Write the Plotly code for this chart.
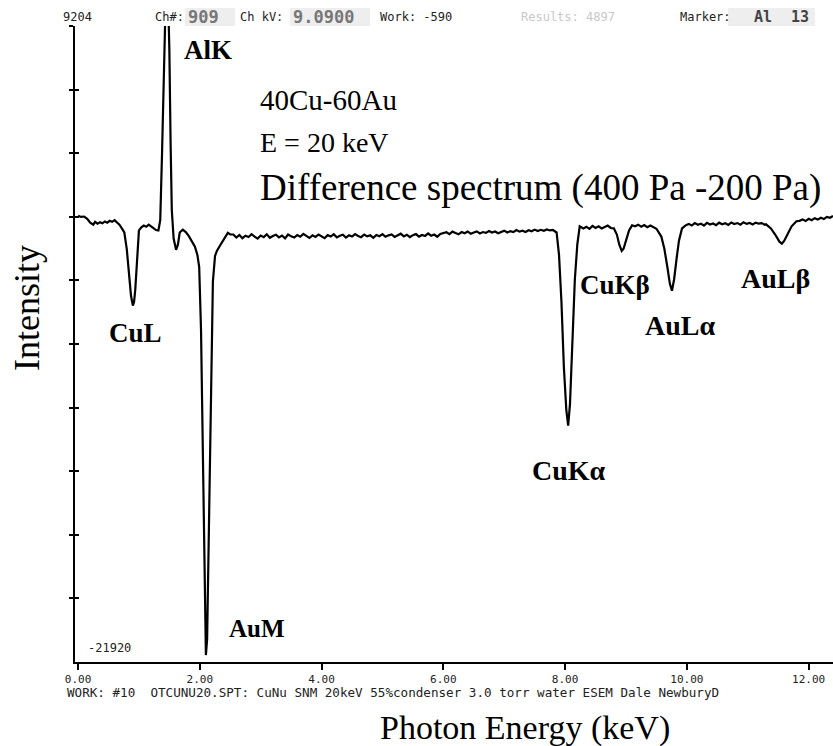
import plotly.graph_objects as go

# ---------------- data ----------------
energy_kev = [
    0.00, 0.05, 0.10, 0.15, 0.20, 0.25, 0.28, 0.32, 0.36, 0.40, 0.44, 0.48, 0.52, 0.56, 0.60, 0.64, 0.68,
    0.72, 0.76, 0.80, 0.84, 0.87, 0.90, 0.92, 0.94, 0.96, 0.98, 1.00, 1.04, 1.08, 1.12, 1.16, 1.20, 1.24,
    1.28, 1.32, 1.35, 1.38, 1.41, 1.44, 1.48, 1.50, 1.52, 1.54, 1.57, 1.61, 1.64, 1.67, 1.72, 1.77, 1.82,
    1.87, 1.92, 1.96, 1.99, 2.02, 2.045, 2.07, 2.085, 2.10, 2.12, 2.14, 2.165, 2.19, 2.215, 2.25, 2.28,
    2.33, 2.40, 2.46, 2.50,
    2.55, 2.60, 2.65, 2.70, 2.75, 2.80, 2.85, 2.90, 2.95, 3.00, 3.05, 3.10, 3.15, 3.20, 3.25, 3.30, 3.35,
    3.40, 3.45, 3.50, 3.55, 3.60, 3.65, 3.70, 3.75, 3.80, 3.85, 3.90, 3.95, 4.00, 4.05, 4.10, 4.15, 4.20,
    4.25, 4.30, 4.35, 4.40, 4.45, 4.50, 4.55, 4.60, 4.65, 4.70, 4.75, 4.80, 4.85, 4.90, 4.95, 5.00, 5.05,
    5.10, 5.15, 5.20, 5.25, 5.30, 5.35, 5.40, 5.45, 5.50, 5.55, 5.60, 5.65, 5.70, 5.75, 5.80, 5.85, 5.90,
    5.95, 6.00, 6.05, 6.10, 6.15, 6.20, 6.25, 6.30, 6.35, 6.40, 6.45, 6.50, 6.55, 6.60, 6.65, 6.70, 6.75,
    6.80, 6.85, 6.90, 6.95, 7.00, 7.05, 7.10, 7.15, 7.20, 7.25, 7.30, 7.35, 7.40, 7.45, 7.50, 7.55, 7.60,
    7.65, 7.70, 7.75,
    7.80, 7.86, 7.90, 7.94, 7.98, 8.02, 8.05, 8.08, 8.12, 8.16, 8.20, 8.24, 8.30, 8.35, 8.40, 8.45, 8.50,
    8.55, 8.60, 8.65, 8.70, 8.75, 8.80, 8.85, 8.89, 8.93, 8.96, 9.00, 9.05, 9.10, 9.15, 9.20, 9.25, 9.30,
    9.35, 9.40, 9.45, 9.50, 9.58, 9.63, 9.68, 9.72, 9.755, 9.79, 9.83, 9.87, 9.92, 9.98,
    10.03, 10.08, 10.13, 10.18, 10.23, 10.28, 10.33, 10.38, 10.43, 10.48, 10.53, 10.58, 10.63, 10.68,
    10.73, 10.78, 10.83, 10.88, 10.93, 10.98, 11.03, 11.08, 11.13, 11.18, 11.23, 11.28, 11.30, 11.38,
    11.45, 11.52, 11.56, 11.60, 11.66, 11.72, 11.80, 11.85, 11.90, 11.95, 12.00, 12.05, 12.10, 12.15,
    12.20, 12.25, 12.30, 12.35, 12.40,
]
intensity = [
    -80, -140, -120, -230, -420, -520, -380, -470, -400, -450, -360, -420, -330, -380, -300, -420, -520,
    -700, -900, -1700, -3000, -4000, -4480, -4300, -3700, -2600, -1300, -800, -650, -560, -620, -520, -600, -680,
    -780, -800, -300, 3000, 7500, 10600, 10600, 8000, 3500, 200, -1200, -1750, -1500, -900, -760, -880, -1080,
    -1350, -1600, -2000, -2600, -5700, -10100, -15000, -18900, -21580, -20800, -16900, -11600, -6700, -3300, -2050, -1800,
    -1550, -1200, -920, -1000,
    -1000, -1150, -1020, -1180, -1060, -1120, -980, -1100, -1200, -1050, -1130, -990, -1160, -1070, -1010, -1140, -1050,
    -1190, -1000, -1090, -1150, -1030, -1110, -970, -1080, -1170, -1040, -1120, -1000, -1090, -1180, -1030, -1100, -990,
    -1140, -1060, -1010, -1150, -1040, -1100, -980, -1070, -1130, -1000, -1090, -1040, -1160, -1020, -1080, -980, -1110,
    -1040, -1000, -1120, -1050, -960, -1090, -1010, -1130, -1030, -980, -1100, -1020, -1070, -950, -1060, -1000, -1110,
    -970, -940, -890, -980, -860, -930, -990, -880, -940, -850, -960, -900, -850, -950, -880, -920, -830,
    -900, -850, -940, -870, -810, -900, -840, -880, -780, -860, -810, -880, -790, -840, -760, -830, -770,
    -820, -750, -800,
    -780, -900, -2000, -4300, -7500, -9600, -10350, -9300, -6000, -3200, -1500, -600, -700, -620, -720, -580, -680,
    -600, -700, -640, -560, -680, -700, -1000, -1500, -1800, -1700, -1300, -800, -550, -600, -520, -620, -540,
    -640, -560, -650, -720, -1100, -1700, -2600, -3400, -3750, -3200, -2200, -1300, -700, -550,
    -480, -560, -440, -520, -470, -560, -430, -510, -460, -540, -420, -500, -450, -530,
    -410, -490, -440, -520, -400, -480, -430, -510, -420, -470, -440, -520, -500, -700,
    -1000, -1350, -1450, -1300, -950, -600, -350, -330, -260, -340, -230, -300, -200, -270,
    -180, -240, -140, -180, -90,
]

x_tick_values = [0, 2, 4, 6, 8, 10, 12]
x_tick_labels = ["0.00", "2.00", "4.00", "6.00", "8.00", "10.00", "12.00"]
y_top_label = 9204
y_bottom_label = -21920
y_divisions = 10

peak_labels = ["AlK", "CuL", "AuM", "CuKα", "CuKβ", "AuLα", "AuLβ"]
peak_label_x = [2.135, 0.936, 2.94, 8.065, 8.82, 9.889, 11.449]
peak_label_y = [8030, -5821, -20258, -12525, -3471, -5429, -3129]
peak_label_size = [27, 27, 25, 28, 27, 28, 28]

info_lines = ["40Cu-60Au", "E = 20 keV", "Difference spectrum (400 Pa -200 Pa)"]
info_sizes = [29, 28, 37]
info_y = [5600, 3500, 1300]

# ---------------- figure ----------------
step = (y_top_label - y_bottom_label) / y_divisions
y_ticks = [y_top_label - k * step for k in range(0, y_divisions)]

fig = go.Figure()
fig.add_trace(go.Scatter(x=energy_kev, y=intensity, mode="lines",
                         line=dict(color="black", width=2.2), showlegend=False,
                         hoverinfo="skip"))
fig.add_trace(go.Scatter(x=[None], y=[None], yaxis="y2", showlegend=False))

fig.update_layout(
    width=833, height=746,
    margin=dict(l=75, r=0, t=26, b=84),
    paper_bgcolor="white", plot_bgcolor="white",
    xaxis=dict(range=[-0.05, 12.40], showgrid=False, zeroline=False,
               showline=True, linecolor="black", linewidth=2,
               ticks="outside", ticklen=6, tickwidth=2, tickcolor="black",
               tickvals=x_tick_values, ticktext=x_tick_labels,
               tickfont=dict(family="DejaVu Sans Mono", size=11, color="#222")),
    yaxis=dict(range=[y_bottom_label, y_top_label], showgrid=False, zeroline=False,
               showline=True, linecolor="black", linewidth=2,
               ticks="outside", ticklen=4, tickwidth=2, tickcolor="black",
               tickvals=y_ticks, showticklabels=False),
    yaxis2=dict(range=[y_bottom_label, y_top_label], overlaying="y", side="left",
                showgrid=False, zeroline=False, showline=False,
                ticks="inside", ticklen=4, tickwidth=2, tickcolor="black",
                tickvals=y_ticks, showticklabels=False),
)

serif = "Liberation Serif"
for t, x, y, s in zip(peak_labels, peak_label_x, peak_label_y, peak_label_size):
    fig.add_annotation(x=x, y=y, xref="x", yref="y", text=f"<b>{t}</b>", showarrow=False,
                       font=dict(family=serif, size=s, color="black"),
                       xanchor="center", yanchor="middle")

for t, s, y in zip(info_lines, info_sizes, info_y):
    fig.add_annotation(x=2.95, y=y, xref="x", yref="y", text=t, showarrow=False,
                       font=dict(family=serif, size=s, color="black"),
                       xanchor="left", yanchor="middle")


def px_x(p):
    return (p - 75) / 758


def px_y(p):
    return (662 - p) / 636


# axis titles
fig.add_annotation(x=px_x(525), y=px_y(728), xref="paper", yref="paper", text="Photon Energy (keV)",
                   showarrow=False, font=dict(family=serif, size=34, color="black"),
                   xanchor="center", yanchor="middle")
fig.add_annotation(x=px_x(27), y=px_y(308), xref="paper", yref="paper", text="Intensity",
                   textangle=-90, showarrow=False,
                   font=dict(family=serif, size=36, color="black"),
                   xanchor="center", yanchor="middle")

mono = "DejaVu Sans Mono"
# scale labels
fig.add_annotation(x=px_x(86), y=px_y(648), xref="paper", yref="paper", text=str(y_bottom_label),
                   showarrow=False, font=dict(family=mono, size=12, color="#222"),
                   xanchor="left", yanchor="middle")
fig.add_annotation(x=px_x(77), y=px_y(17), xref="paper", yref="paper", text=str(y_top_label),
                   showarrow=False, font=dict(family=mono, size=12, color="#222"),
                   xanchor="center", yanchor="middle")

# footer
fig.add_annotation(x=px_x(65), y=px_y(692), xref="paper", yref="paper",
                   text="WORK: #10  OTCUNU20.SPT: CuNu SNM 20keV 55%condenser 3.0 torr water ESEM Dale NewburyD",
                   showarrow=False, font=dict(family=mono, size=12.6, color="#222"),
                   xanchor="left", yanchor="middle")

# header boxes
for x0, x1 in [(185, 235), (290, 370), (728, 815)]:
    fig.add_shape(type="rect", xref="paper", yref="paper",
                  x0=px_x(x0), x1=px_x(x1), y0=px_y(26), y1=px_y(8),
                  fillcolor="#eeeeee", line=dict(width=0), layer="below")

header = [
    ("Ch#:", 153, "#222", 12, False),
    ("909", 186, "#777", 17, True),
    ("Ch kV:", 238, "#222", 12, False),
    ("9.0900", 291, "#777", 17, True),
    ("Work: -590", 378, "#222", 12, False),
    ("Results: 4897", 519, "#c8c8c8", 12, False),
    ("Marker:", 678, "#222", 12, False),
    ("Al", 752, "#444", 15, True),
    ("13", 789, "#444", 15, True),
]
for t, xp, col, sz, bold in header:
    fig.add_annotation(x=px_x(xp), y=px_y(17), xref="paper", yref="paper",
                       text=f"<b>{t}</b>" if bold else t, showarrow=False,
                       font=dict(family=mono, size=sz, color=col),
                       xanchor="left", yanchor="middle")

fig.write_html("out.html")
